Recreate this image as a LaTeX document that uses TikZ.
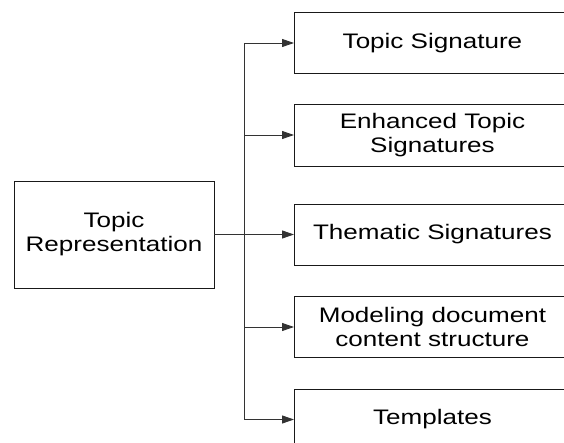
\documentclass[tikz,border=0pt]{standalone}
\usepackage{fontspec}
\setmainfont[FakeStretch=1.24]{Liberation Sans}
\usetikzlibrary{arrows.meta}
\begin{document}
\begin{tikzpicture}[x=1pt,y=-1pt,
  box/.style={draw=black!90,line width=0.9pt,rectangle,align=center,inner sep=0pt,
    font=\fontsize{21}{24}\selectfont,text=black},
  leaf/.style={box,anchor=west,minimum width=276pt,minimum height=61pt},
  link/.style={draw=black!80,line width=0.9pt},
  arr/.style={link,-{Triangle[length=12pt,width=8pt]}}]
\useasboundingbox (0,0) rectangle (564,443);
\clip (0,0) rectangle (564,443);
\node[box,minimum width=200pt,minimum height=107pt] (src) at (114,234.5) {Topic\\Representation};
\node[leaf] (b1) at (294,43) {Topic Signature};
\node[leaf,minimum height=62pt] (b2) at (294,135) {Enhanced Topic\\Signatures};
\node[leaf] (b3) at (294,234.5) {Thematic Signatures};
\node[leaf] (b4) at (294,327) {Modeling document\\content structure};
\node[leaf] (b5) at (294,419.5) {Templates};
\coordinate (bus) at (244,0);
\draw[link] (b1.west -| bus) -- (b5.west -| bus);
\draw[arr] (src.east) -- (b3.west);
\draw[arr] (b1.west -| bus) -- (b1.west);
\draw[arr] (b2.west -| bus) -- (b2.west);
\draw[arr] (b4.west -| bus) -- (b4.west);
\draw[arr] (b5.west -| bus) -- (b5.west);
\end{tikzpicture}
\end{document}
